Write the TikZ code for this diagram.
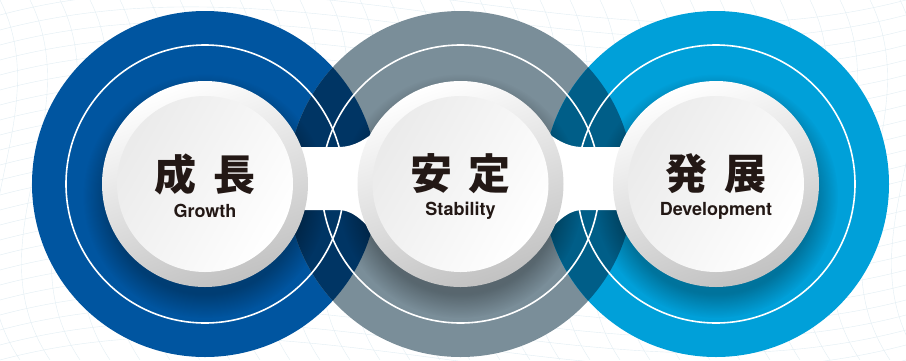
\documentclass[tikz,border=0pt]{standalone}
\usepackage{fontspec}
\setmainfont{TeX Gyre Heros}
\newfontfamily\cjk[WordSpace=1.7]{Noto Sans CJK JP}
\usetikzlibrary{fadings}

\definecolor{growthblue}{HTML}{0055A0}
\definecolor{stablegray}{HTML}{7A8E99}
\definecolor{devcyan}{HTML}{00A0D9}
\definecolor{navyover}{HTML}{003564}
\definecolor{tealover}{HTML}{005E88}
\definecolor{inkbrown}{HTML}{231815}
\definecolor{bgwave}{HTML}{E2EEF4}

\tikzset{
  bgline/.style={draw=bgwave, line width=0.4pt},
  ringline/.style={draw=white, line width=1.6pt},
  discshadow/.style={fill=black, fill opacity=0.28, path fading=circle with fuzzy edge 20 percent},
  outerdisc/.style={left color=white, middle color=white, right color=black!24, shading angle=20},
  innerdisc/.style={left color=black!8, right color=white, shading angle=60},
  jptitle/.style={font=\cjk\bfseries\fontsize{42}{42}\selectfont, text=inkbrown},
  entitle/.style={font=\bfseries\fontsize{18}{18}\selectfont, text=inkbrown},
}

\begin{document}
\begin{tikzpicture}[x=1pt,y=-1pt]
    \useasboundingbox (0,0) rectangle (906,360);
    \fill[white] (0,0) rectangle (906,360);

    % faint wave mesh in the background
    \foreach \i in {0,...,24}
        \draw[bgline] (0,{\i*15}) .. controls (300,{\i*15-80}) and (600,{\i*15+80}) .. (906,{\i*15});
    \foreach \i in {0,...,30}
        \draw[bgline] ({\i*30},0) .. controls ({\i*30+60},120) and ({\i*30-60},240) .. ({\i*30+20},360);

    \coordinate (growth) at (205,184);
    \coordinate (stable) at (460.5,184);
    \coordinate (develop) at (716,184);

    % big coloured circles
    \fill[growthblue] (growth) circle (173);
    \fill[stablegray] (stable) circle (173);
    \fill[devcyan] (develop) circle (173);
    \begin{scope}
        \clip (growth) circle (173);
        \fill[navyover] (stable) circle (173);
    \end{scope}
    \begin{scope}
        \clip (develop) circle (173);
        \fill[tealover] (stable) circle (173);
    \end{scope}

    % shadows under the white discs
    \fill[discshadow] ([yshift=-12pt]growth) circle (122);
    \fill[discshadow] ([yshift=-12pt]stable) circle (122);
    \fill[discshadow] ([yshift=-12pt]develop) circle (122);

    % thin white rings
    \draw[ringline] (growth) circle (139);
    \draw[ringline] (stable) circle (139);
    \draw[ringline] (develop) circle (139);

    % white bridges between the discs
    \fill[white] (280,147) -- (338,147) .. controls (356,147) and (366,138) .. (378,130) -- (420,130) -- (420,236) -- (378,236) .. controls (366,226) and (356,210) .. (338,210) -- (280,210) -- cycle;
    \begin{scope}[shift={(921,0)}, xscale=-1]
        \fill[white] (280,147) -- (338,147) .. controls (356,147) and (366,138) .. (378,130) -- (420,130) -- (420,236) -- (378,236) .. controls (366,226) and (356,210) .. (338,210) -- (280,210) -- cycle;
    \end{scope}

    % white discs
    \shade[outerdisc] (growth) circle (103);
    \shade[outerdisc] (stable) circle (103);
    \shade[outerdisc] (develop) circle (103);
    \shade[innerdisc] (growth) circle (88);
    \shade[innerdisc] (stable) circle (88);
    \shade[innerdisc] (develop) circle (88);

    % labels
    \node[jptitle] (growthjp) at (205,174) {成 長};
    \node[entitle] (growthen) at (205,211) {Growth};
    \node[jptitle] (stablejp) at (460.5,174) {安 定};
    \node[entitle] (stableen) at (460.5,211) {Stability};
    \node[jptitle] (developjp) at (716,174) {発 展};
    \node[entitle] (developen) at (716,211) {Development};
\end{tikzpicture}
\end{document}
